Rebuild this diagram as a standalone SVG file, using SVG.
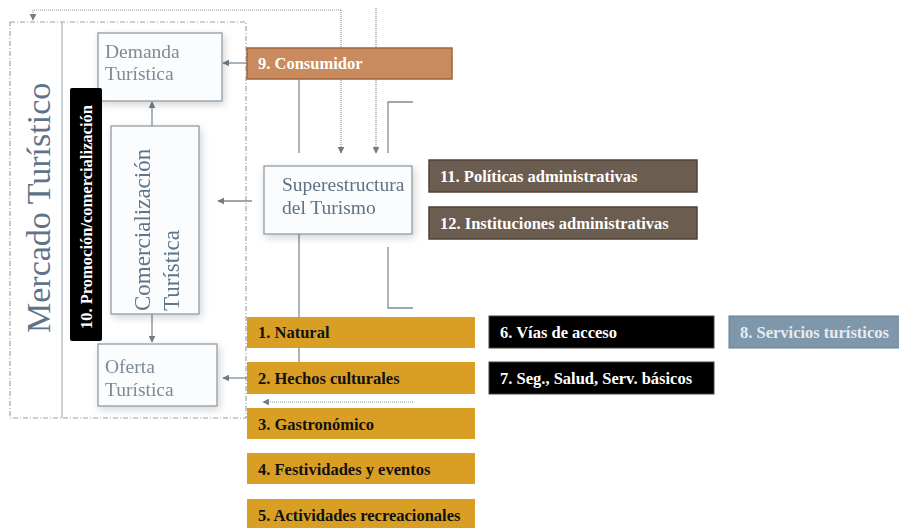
<svg xmlns="http://www.w3.org/2000/svg" width="899" height="528" viewBox="0 0 899 528">
<style>
.box{fill:#fbfcfd;stroke:#8f9ba7;stroke-width:1.3}
.lt{font-family:"Liberation Serif",serif;font-size:19.5px;fill:#6f7f90}
.bt{font-family:"Liberation Serif",serif;font-size:16.5px;font-weight:bold}
.ln{fill:none;stroke:#7f8b97;stroke-width:1.3}
.dot{fill:none;stroke:#8c97a3;stroke-width:1.2;stroke-dasharray:1 1}
.dd{fill:none;stroke:#9aa4ae;stroke-width:1.2;stroke-dasharray:5 2 1 2}
</style>
<defs>
<marker id="ah" viewBox="0 0 10 10" refX="9" refY="5" markerWidth="7" markerHeight="7" markerUnits="userSpaceOnUse" orient="auto">
<path d="M0,0 L10,5 L0,10 z" fill="#6f7c89"/>
</marker>
<filter id="sh" x="-20%" y="-20%" width="140%" height="140%">
<feGaussianBlur in="SourceAlpha" stdDeviation="4"/>
<feOffset dx="2" dy="3"/>
<feComponentTransfer><feFuncA type="linear" slope="0.18"/></feComponentTransfer>
<feMerge><feMergeNode/><feMergeNode in="SourceGraphic"/></feMerge>
</filter>
</defs>
<rect width="899" height="528" fill="#ffffff"/>

<g id="mercado">
<rect x="10" y="22" width="236" height="396" class="dd"/>
<line x1="62" y1="22" x2="62" y2="418" stroke="#a9b2bb" stroke-width="1.2"/>
<text class="lt" transform="translate(50,333) rotate(-90)" style="font-size:34px;fill:#607489">Mercado Turístico</text>
</g>

<g id="connectors">
<polyline class="dot" points="341,10 33,10 33,20" marker-end="url(#ah)"/>
<line class="dot" x1="341" y1="10" x2="341" y2="153" marker-end="url(#ah)"/>
<line class="dot" x1="376" y1="8" x2="376" y2="153" marker-end="url(#ah)"/>
<line class="ln" x1="247" y1="63" x2="223" y2="63" marker-end="url(#ah)"/>
<line class="ln" x1="152" y1="126" x2="152" y2="102" marker-end="url(#ah)"/>
<line class="ln" x1="152" y1="314" x2="152" y2="342" marker-end="url(#ah)"/>
<line class="ln" x1="252" y1="201" x2="218" y2="201" marker-end="url(#ah)"/>
<line class="ln" x1="247" y1="378" x2="223" y2="378" marker-end="url(#ah)"/>
<line class="dot" x1="413" y1="402" x2="263" y2="402" marker-end="url(#ah)"/>
<line class="ln" x1="299" y1="79" x2="299" y2="153"/>
<line class="ln" x1="299" y1="234" x2="299" y2="362"/>
<polyline class="ln" points="413,102 388,102 388,153"/>
<polyline class="ln" points="388,247 388,308 413,308"/>
</g>

<g id="demanda" filter="url(#sh)">
<rect class="box" x="98" y="33" width="124" height="68"/>
<text class="lt" x="105" y="58" style="fill:#7d8a97">Demanda</text>
<text class="lt" x="105" y="80" style="fill:#7d8a97">Turística</text>
</g>

<g id="promocion">
<rect x="70" y="88" width="32" height="253" rx="2" fill="#000"/>
<text class="bt" transform="translate(92,329) rotate(-90)" fill="#fff">10. Promoción/comercialización</text>
</g>

<g id="comercializacion" filter="url(#sh)">
<rect class="box" x="111" y="126" width="88" height="188"/>
<text class="lt" transform="translate(150,311) rotate(-90)" style="font-size:23px;fill:#5f7489">Comercialización</text>
<text class="lt" transform="translate(179,311) rotate(-90)" style="font-size:23px;fill:#5f7489">Turística</text>
</g>

<g id="oferta" filter="url(#sh)">
<rect class="box" x="98" y="344" width="119" height="62"/>
<text class="lt" x="105" y="373" style="fill:#7d8a97">Oferta</text>
<text class="lt" x="105" y="396" style="fill:#7d8a97">Turística</text>
</g>

<g id="superestructura" filter="url(#sh)">
<rect class="box" x="264" y="166" width="148" height="68"/>
<text class="lt" x="282" y="191" style="fill:#607185">Superestructura</text>
<text class="lt" x="282" y="214" style="fill:#607185">del Turismo</text>
</g>

<g id="consumidor">
<rect x="247" y="48" width="205" height="31" fill="#c98a5d" stroke="#9c6440" stroke-width="1.5"/>
<text class="bt" x="258" y="69" fill="#fff">9. Consumidor</text>
</g>

<g id="politicas">
<rect x="429" y="160" width="268" height="32" fill="#6c5d51" stroke="#4d4139" stroke-width="1.5"/>
<text class="bt" x="440" y="182" fill="#fff">11. Políticas administrativas</text>
</g>
<g id="instituciones">
<rect x="429" y="207" width="268" height="32" fill="#6c5d51" stroke="#4d4139" stroke-width="1.5"/>
<text class="bt" x="440" y="229" fill="#fff">12. Instituciones administrativas</text>
</g>

<g id="natural">
<rect x="247" y="317" width="228" height="31" fill="#d99f24"/>
<text class="bt" x="258" y="338" fill="#111">1. Natural</text>
</g>
<g id="hechos">
<rect x="247" y="362" width="228" height="32" fill="#d99f24"/>
<text class="bt" x="258" y="384" fill="#111">2. Hechos culturales</text>
</g>
<g id="gastronomico">
<rect x="247" y="408" width="228" height="31" fill="#d99f24"/>
<text class="bt" x="258" y="430" fill="#111">3. Gastronómico</text>
</g>
<g id="festividades">
<rect x="247" y="453" width="228" height="31" fill="#d99f24"/>
<text class="bt" x="258" y="475" fill="#111">4. Festividades y eventos</text>
</g>
<g id="actividades">
<rect x="247" y="499" width="228" height="32" fill="#d99f24"/>
<text class="bt" x="258" y="521" fill="#111">5. Actividades recreacionales</text>
</g>

<g id="vias">
<rect x="489" y="316" width="225" height="32" fill="#000" stroke="#444" stroke-width="1"/>
<text class="bt" x="500" y="338" fill="#fff">6. Vías de acceso</text>
</g>
<g id="seguridad">
<rect x="489" y="362" width="225" height="32" fill="#000" stroke="#444" stroke-width="1"/>
<text class="bt" x="500" y="384" fill="#fff">7. Seg., Salud, Serv. básicos</text>
</g>
<g id="servicios">
<rect x="729" y="316" width="172" height="32" fill="#7e97ab" stroke="#667f93" stroke-width="1"/>
<text class="bt" x="740" y="338" fill="#e6ebef">8. Servicios turísticos</text>
</g>
</svg>
